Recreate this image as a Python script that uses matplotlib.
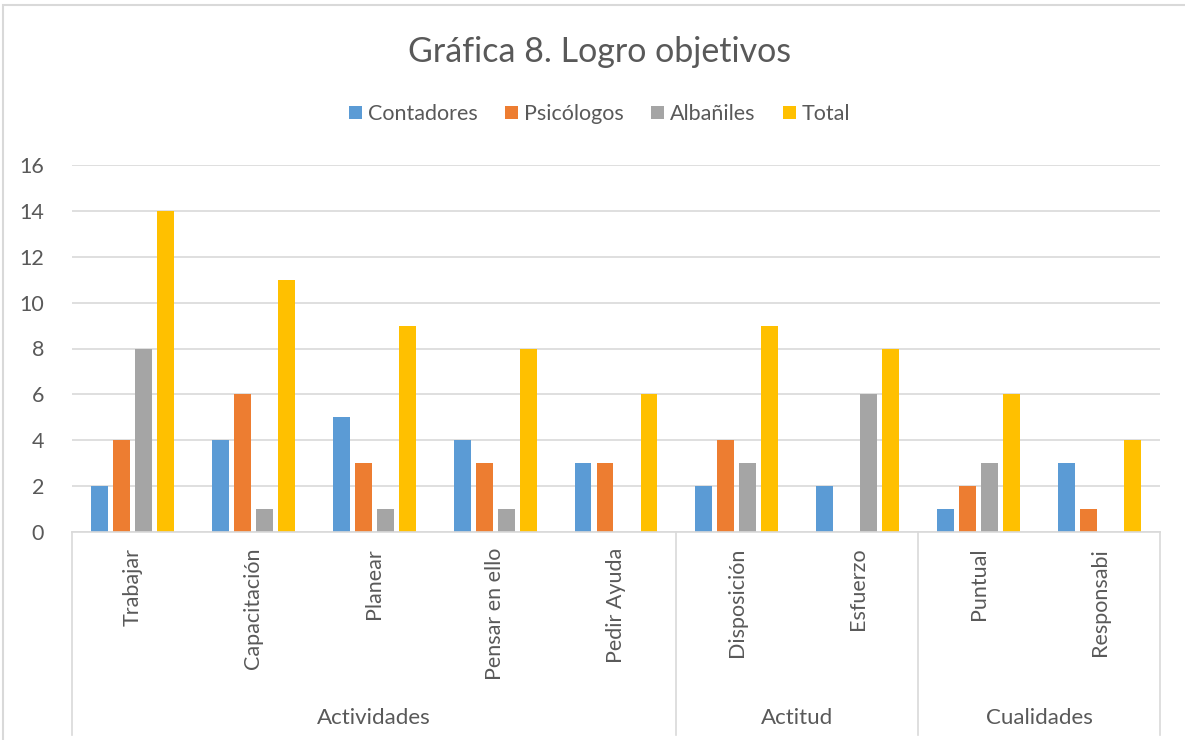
import numpy as np
import matplotlib
matplotlib.use("Agg")
import matplotlib.pyplot as plt
from matplotlib.patches import Rectangle
import matplotlib.transforms as mtransforms

plt.rcParams['font.family'] = ['Lato', 'DejaVu Sans']

categorias = ['Trabajar', 'Capacitación', 'Planear', 'Pensar en ello', 'Pedir Ayuda',
              'Disposición', 'Esfuerzo', 'Puntual', 'Responsabi']
grupos = ['Actividades', 'Actitud', 'Cualidades']
tam_grupos = [5, 2, 2]

series = ['Contadores', 'Psicólogos', 'Albañiles', 'Total']
contadores = [2, 4, 5, 4, 3, 2, 2, 1, 3]
psicologos = [4, 6, 3, 3, 3, 4, 0, 2, 1]
albaniles = [8, 1, 1, 1, 0, 3, 6, 3, 0]
total = [14, 11, 9, 8, 6, 9, 8, 6, 4]

colores = ['#5b9bd5', '#ed7d31', '#a5a5a5', '#ffc000']
texto = '#595959'
rejilla = '#d9d9d9'
fs = 15.5

fig = plt.figure(figsize=(11.85, 7.4), dpi=100)
ax = fig.add_axes([72 / 1185, 1 - 532 / 740, (1160 - 72) / 1185, 367 / 740])

x = np.arange(len(categorias))
ancho = 0.14
paso = 0.182
for i, (nombre, valores) in enumerate(zip(series, [contadores, psicologos, albaniles, total])):
    ax.bar(x + (i - 1.5) * paso, valores, width=ancho, color=colores[i], label=nombre, zorder=3)

ax.set_xlim(-0.5, len(categorias) - 0.5)
ax.set_ylim(0, 16)
ax.set_yticks(range(0, 17, 2))
ax.yaxis.grid(True, color=rejilla, linewidth=1.2, zorder=0)
ax.tick_params(axis='y', length=0, labelsize=fs, labelcolor=texto, pad=20)
ax.set_xticks([])
for s in ['top', 'right', 'left']:
    ax.spines[s].set_visible(False)
ax.spines['bottom'].set_color(rejilla)
ax.spines['bottom'].set_linewidth(1.2)
ax.spines['bottom'].set_zorder(4)

trans = mtransforms.blended_transform_factory(ax.transData, ax.transAxes)
for xi, cat in zip(x, categorias):
    ax.text(xi, -0.043, cat, rotation=90, ha='center', va='top', fontsize=fs,
            color=texto, transform=trans)

bordes = np.concatenate([[0], np.cumsum(tam_grupos)]) - 0.5
for b in bordes:
    ax.plot([b, b], [0, -0.553], color=rejilla, linewidth=1.2, transform=trans, clip_on=False)
for g, a, b in zip(grupos, bordes[:-1], bordes[1:]):
    ax.text((a + b) / 2, -0.507, g, ha='center', va='center', fontsize=16,
            color=texto, transform=trans)

fig.text(0.506, 1 - 52 / 740, 'Gráfica 8. Logro objetivos', ha='center', va='center',
         fontsize=24.5, color=texto)
fig.legend(loc='center', bbox_to_anchor=(0.506, 1 - 114 / 740), ncol=4, frameon=False,
           fontsize=fs, handlelength=0.6, handleheight=0.6, handletextpad=0.25,
           columnspacing=1.3, labelcolor=texto)

fig.patches.append(Rectangle((3 / 1185, -0.01), 1.1, 1 - 5 / 740 + 0.01, transform=fig.transFigure,
                             fill=False, edgecolor=rejilla, linewidth=1.5))

fig.savefig('out.png', dpi=100)
